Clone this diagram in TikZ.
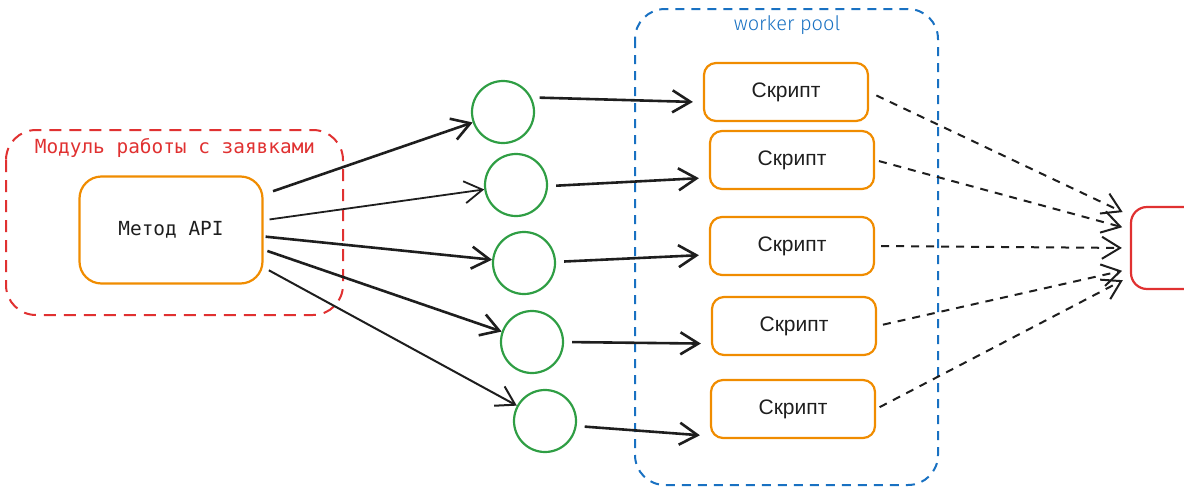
\documentclass[tikz,border=0pt]{standalone}
\usepackage{fontspec}
\setmainfont{Liberation Sans}
\setmonofont{DejaVu Sans Mono}
\newfontfamily\poolfont{Fira Sans Light}
\usetikzlibrary{arrows.meta}
\definecolor{xred}{HTML}{E03131}
\definecolor{xorange}{HTML}{F08C00}
\definecolor{xgreen}{HTML}{2F9E44}
\definecolor{xblue}{HTML}{1971C2}
\definecolor{xink}{HTML}{1E1E1E}

\begin{document}
\begin{tikzpicture}[x=0.5pt,y=-0.5pt,>={Straight Barb[length=9pt,width=11pt]},
  apibox/.style={draw=xorange,line width=1.1pt,rounded corners=11pt,minimum width=91.5pt,minimum height=53.5pt,text=xink,font=\ttfamily\fontsize{9.7}{12}\selectfont},
  scriptbox/.style={draw=xorange,line width=1.1pt,rounded corners=6pt,minimum width=82pt,minimum height=29pt,text=xink,font=\fontsize{10.5}{12}\selectfont},
  queue/.style={draw=xgreen,line width=1.1pt,circle,minimum size=31pt},
  link/.style={->,line width=1.3pt,draw=xink},
  fan/.style={->,line width=1pt,dash pattern=on 4pt off 3.5pt,draw=xink}]
  \useasboundingbox (0,0) rectangle (1184,493);
  % groups
  \draw[xred,line width=1pt,dash pattern=on 6pt off 4pt,rounded corners=15pt] (6,130) rectangle (343,315);
  \node[text=xred,font=\ttfamily\fontsize{9.7}{12}\selectfont] (modlabel) at (175,148) {Модуль работы с заявками};
  \draw[xblue,line width=1pt,dash pattern=on 4.5pt off 3.5pt,rounded corners=15pt] (635,9) rectangle (938,485);
  \node[text=xblue,font=\poolfont\fontsize{10}{12}\selectfont] (poollabel) at (787,25) {worker pool};
  % nodes
  \node[apibox] (api) at (171,230) {Метод API};
  \node[queue] (c1) at (503,112) {};
  \node[queue] (c2) at (516,185) {};
  \node[queue] (c3) at (524,263) {};
  \node[queue] (c4) at (532,342) {};
  \node[queue] (c5) at (545,421) {};
  \node[scriptbox] (s1) at (786,92) {Скрипт};
  \node[scriptbox] (s2) at (792,160) {Скрипт};
  \node[scriptbox] (s3) at (792,246) {Скрипт};
  \node[scriptbox] (s4) at (794,326) {Скрипт};
  \node[scriptbox] (s5) at (793,409) {Скрипт};
  \node[draw=xred,line width=1.1pt,rounded corners=8pt,minimum width=60pt,minimum height=41pt] (out) at (1191,248) {};
  % connectors
  \draw[link,shorten <=5pt] (api.21) -- (c1);
  \draw[link,shorten <=3pt,line width=0.9pt] (api.6) -- (c2);
  \draw[link,shorten <=1pt] (api.-4) -- (c3);
  \draw[link,shorten <=2pt] (api.-12) -- (c4);
  \draw[link,shorten <=3pt,line width=1pt] (api.-22) -- (c5);
  \foreach \i/\a/\b in {1/27/187,2/-2/192,3/2/186,4/0/192,5/-9/198}
    \draw[link,shorten <=4pt,shorten >=5pt] (c\i.\a) -- (s\i.\b);
  \draw[fan,shorten <=4pt,shorten >=4pt] (s1.east) -- (out.152);
  \draw[fan,shorten <=2pt,shorten >=4pt] (s2.east) -- (out.163);
  \draw[fan,shorten <=3pt,shorten >=4pt] (s3.east) -- (out.180);
  \draw[fan,shorten <=3pt,shorten >=4pt] (s4.east) -- (out.199);
  \draw[fan,shorten <=2pt,shorten >=4pt] (s5.east) -- (out.205);
\end{tikzpicture}
\end{document}
